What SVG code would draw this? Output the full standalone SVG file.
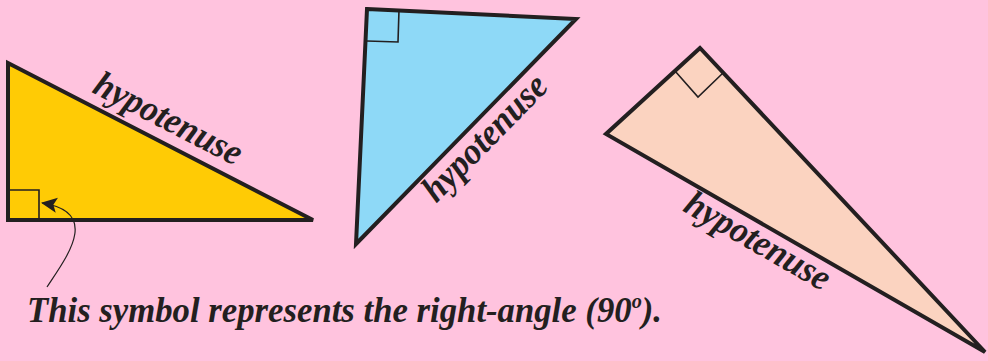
<svg xmlns="http://www.w3.org/2000/svg" width="988" height="361" viewBox="0 0 988 361">
<style>
.tri{stroke:#231f20;stroke-width:4;stroke-linejoin:miter}
.sq{fill:none;stroke:#231f20;stroke-width:1.6}
.lbl{font-family:"Liberation Serif","Times New Roman",serif;font-weight:bold;font-style:italic;fill:#231f20}
.hyp{font-size:37px;text-anchor:middle}
</style>
<defs>
<marker id="ah" markerUnits="userSpaceOnUse" viewBox="0 0 16 16" markerWidth="16" markerHeight="16" refX="15" refY="8" orient="auto">
<path d="M0,0.5 L16,8 L0,15.5 L3.5,8 z" fill="#231f20"/>
</marker>
</defs>
<rect width="988" height="361" fill="#ffc3de"/>
<g id="yellow-triangle">
<polygon class="tri" points="8,63 8,220 313,220" fill="#ffcb05"/>
<polyline class="sq" points="9,190 39,190 39,219"/>
<text class="lbl hyp" transform="translate(163,129) rotate(27.2)" textLength="162" lengthAdjust="spacingAndGlyphs">hypotenuse</text>
</g>
<g id="blue-triangle">
<polygon class="tri" points="367,9 576,19 356,244" fill="#8ed9f7"/>
<polyline class="sq" points="399,10 398,42 367,41"/>
<text class="lbl hyp" transform="translate(493,146) rotate(-45.5)" textLength="162" lengthAdjust="spacingAndGlyphs">hypotenuse</text>
</g>
<g id="peach-triangle">
<polygon class="tri" points="700,48 606,134 985,352" fill="#fbd3c0"/>
<polyline class="sq" points="675,71 698,97 723,73"/>
<text class="lbl hyp" transform="translate(752,251) rotate(29.9)" textLength="162" lengthAdjust="spacingAndGlyphs">hypotenuse</text>
</g>
<g id="connectors">
<path d="M47,287 C66,258 102,212 42,203" fill="none" stroke="#231f20" stroke-width="1.2" marker-end="url(#ah)"/>
</g>
<g id="caption">
<text class="lbl" x="27" y="322" font-size="36" textLength="635" lengthAdjust="spacingAndGlyphs">This symbol represents the right-angle (90<tspan font-size="21" dy="-14">o</tspan><tspan dy="14">).</tspan></text>
</g>
</svg>
